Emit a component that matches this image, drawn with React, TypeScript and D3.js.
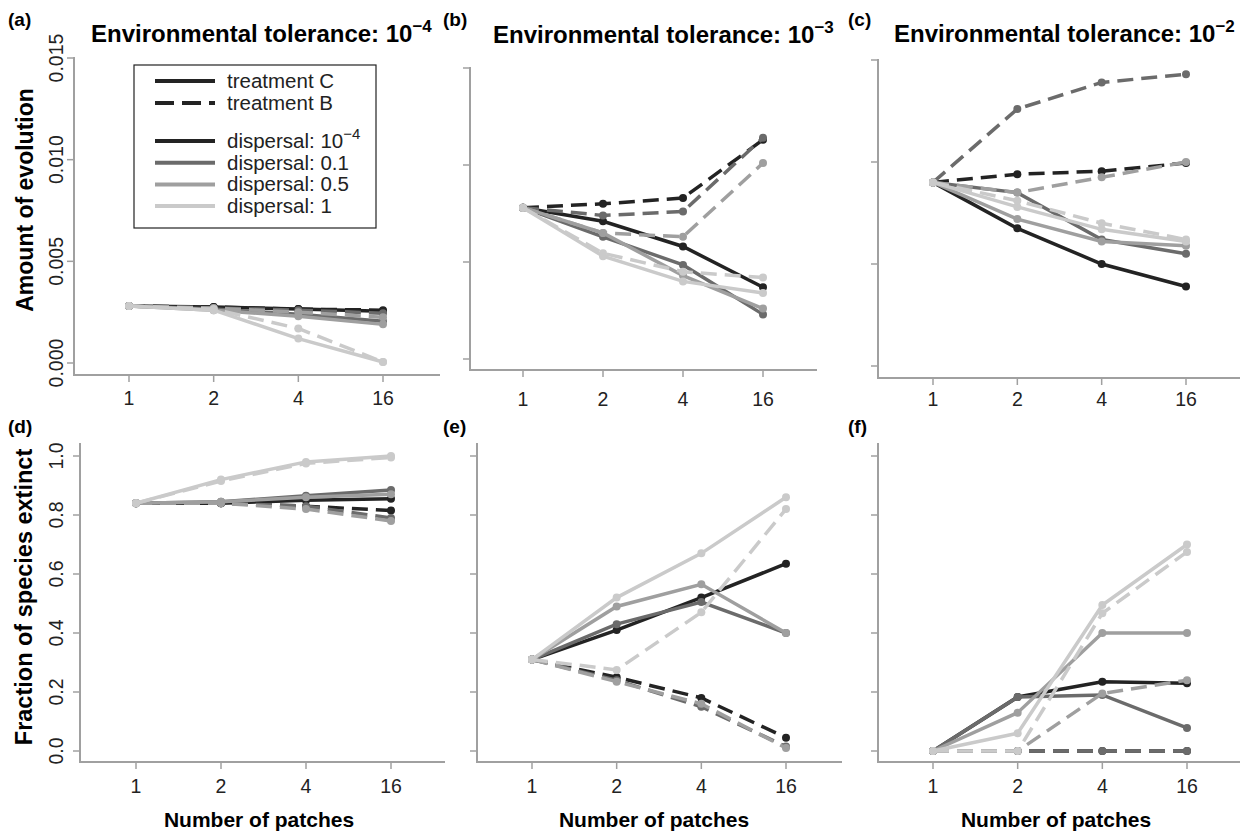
import * as d3 from "d3";

// x categories and axis ticks
const patches = ["1", "2", "4", "16"];
const evoTicks = [0, 0.005, 0.01, 0.015];
const evoTickLabels = ["0.000", "0.005", "0.010", "0.015"];
const extTicks = [0, 0.2, 0.4, 0.6, 0.8, 1.0];
const extTickLabels = ["0.0", "0.2", "0.4", "0.6", "0.8", "1.0"];

// dispersal levels (rows of every data array below)
const dispersal = ["10", "0.1", "0.5", "1"];
const dispersalColors = ["#232323", "#6b6b6b", "#9f9f9f", "#cacaca"];

// amount of evolution, tolerance 1e-4
const evoTol4C = [
  [0.0028, 0.00275, 0.00265, 0.00255],
  [0.0028, 0.00265, 0.0024, 0.00205],
  [0.0028, 0.0026, 0.0023, 0.0019],
  [0.0028, 0.0026, 0.0012, 0.00005],
];
const evoTol4B = [
  [0.0028, 0.00275, 0.00265, 0.0026],
  [0.0028, 0.0027, 0.0026, 0.00245],
  [0.0028, 0.0027, 0.0025, 0.00225],
  [0.0028, 0.00265, 0.0017, 0.00005],
];
// amount of evolution, tolerance 1e-3
const evoTol3C = [
  [0.0078, 0.0071, 0.0058, 0.0037],
  [0.0078, 0.0063, 0.00485, 0.0023],
  [0.0078, 0.0065, 0.0043, 0.0026],
  [0.0078, 0.0053, 0.004, 0.0034],
];
const evoTol3B = [
  [0.0078, 0.008, 0.0083, 0.0113],
  [0.0078, 0.0074, 0.0076, 0.0114],
  [0.0078, 0.0065, 0.0063, 0.0101],
  [0.0078, 0.00545, 0.0045, 0.0042],
];
// amount of evolution, tolerance 1e-2
const evoTol2C = [
  [0.009, 0.00675, 0.005, 0.0039],
  [0.009, 0.0085, 0.0062, 0.0055],
  [0.009, 0.0072, 0.0061, 0.0059],
  [0.009, 0.0078, 0.0067, 0.0061],
];
const evoTol2B = [
  [0.009, 0.0094, 0.00955, 0.00995],
  [0.009, 0.0126, 0.0139, 0.0143],
  [0.009, 0.0085, 0.00925, 0.01],
  [0.009, 0.0081, 0.007, 0.0062],
];
// fraction of species extinct
const extTol4C = [
  [0.84, 0.84, 0.85, 0.855],
  [0.84, 0.845, 0.865, 0.885],
  [0.84, 0.845, 0.86, 0.87],
  [0.84, 0.92, 0.98, 1.0],
];
const extTol4B = [
  [0.84, 0.84, 0.83, 0.815],
  [0.84, 0.84, 0.83, 0.79],
  [0.84, 0.84, 0.82, 0.78],
  [0.84, 0.915, 0.975, 0.995],
];
const extTol3C = [
  [0.31, 0.41, 0.52, 0.635],
  [0.31, 0.43, 0.505, 0.4],
  [0.31, 0.49, 0.565, 0.4],
  [0.31, 0.52, 0.67, 0.86],
];
const extTol3B = [
  [0.31, 0.25, 0.18, 0.045],
  [0.31, 0.24, 0.15, 0.015],
  [0.31, 0.235, 0.16, 0.01],
  [0.31, 0.275, 0.47, 0.82],
];
const extTol2C = [
  [0, 0.183, 0.235, 0.23],
  [0, 0.183, 0.19, 0.078],
  [0, 0.13, 0.4, 0.4],
  [0, 0.06, 0.495, 0.7],
];
const extTol2B = [
  [0, 0, 0, 0],
  [0, 0, 0, 0],
  [0, 0, 0.195, 0.24],
  [0, 0, 0.467, 0.675],
];

const FONT = "'Liberation Sans', Arial, Helvetica, sans-serif";
const AXIS = "#a0a0a0";
const DASH = "16,8";

type PanelDef = {
  label: string;
  labelX: number;
  labelY: number;
  title?: { x: number; y: number; exp: string };
  axisX: number;
  x1: number;
  x16: number;
  y0: number;
  yMax: number;
  axisTop: number;
  axisBottom: number;
  axisRight: number;
  xLabY: number;
  ticks: number[];
  tickLabels?: string[];
  c: number[][];
  b: number[][];
};

const panels: PanelDef[] = [
  { label: "(a)", labelX: 8, labelY: 26, title: { x: 91, y: 42, exp: "−4" }, axisX: 74, x1: 129, x16: 383, y0: 363, yMax: 58, axisTop: 57, axisBottom: 375, axisRight: 440, xLabY: 405, ticks: evoTicks, tickLabels: evoTickLabels, c: evoTol4C, b: evoTol4B },
  { label: "(b)", labelX: 443, labelY: 26, title: { x: 493, y: 43, exp: "−3" }, axisX: 470, x1: 523, x16: 763, y0: 359, yMax: 68, axisTop: 67, axisBottom: 370, axisRight: 817, xLabY: 406, ticks: evoTicks, c: evoTol3C, b: evoTol3B },
  { label: "(c)", labelX: 848, labelY: 26, title: { x: 894, y: 42, exp: "−2" }, axisX: 878, x1: 933, x16: 1186, y0: 366, yMax: 60, axisTop: 59, axisBottom: 378, axisRight: 1240, xLabY: 406, ticks: evoTicks, c: evoTol2C, b: evoTol2B },
  { label: "(d)", labelX: 8, labelY: 433, axisX: 80, x1: 136, x16: 391, y0: 751, yMax: 456, axisTop: 443, axisBottom: 762, axisRight: 445, xLabY: 793, ticks: extTicks, tickLabels: extTickLabels, c: extTol4C, b: extTol4B },
  { label: "(e)", labelX: 443, labelY: 433, axisX: 477, x1: 532, x16: 786, y0: 751, yMax: 456, axisTop: 443, axisBottom: 762, axisRight: 842, xLabY: 793, ticks: extTicks, c: extTol3C, b: extTol3B },
  { label: "(f)", labelX: 848, labelY: 433, axisX: 878, x1: 933, x16: 1187, y0: 751, yMax: 456, axisTop: 443, axisBottom: 762, axisRight: 1240, xLabY: 793, ticks: extTicks, c: extTol2C, b: extTol2B },
];

function Panel({ p }: { p: PanelDef }) {
  const x = d3.scalePoint<string>().domain(patches).range([p.x1, p.x16]);
  const tickMax = p.ticks[p.ticks.length - 1];
  const y = d3.scaleLinear().domain([0, tickMax]).range([p.y0, p.yMax]);
  const line = d3
    .line<number>()
    .x((_, i) => x(patches[i]) as number)
    .y((d) => y(d));

  const series = dispersal.flatMap((_, i) => [
    { vals: p.c[i], color: dispersalColors[i], dash: undefined as string | undefined },
    { vals: p.b[i], color: dispersalColors[i], dash: DASH },
  ]);

  return (
    <g>
      <text x={p.labelX} y={p.labelY} fontSize={19} fontWeight="bold">
        {p.label}
      </text>
      {p.title && (
        <text x={p.title.x} y={p.title.y} fontSize={24} fontWeight="bold">
          Environmental tolerance: 10
          <tspan fontSize={17} dy={-10}>
            {p.title.exp}
          </tspan>
        </text>
      )}
      {/* L-shaped axes */}
      <path
        d={`M${p.axisX},${p.axisTop}V${p.axisBottom}H${p.axisRight}`}
        fill="none"
        stroke={AXIS}
        strokeWidth={2}
      />
      {p.ticks.map((t, i) => (
        <g key={"yt" + i}>
          <line x1={p.axisX - 7} x2={p.axisX} y1={y(t)} y2={y(t)} stroke={AXIS} strokeWidth={1.5} />
          {p.tickLabels && (
            <text
              x={63}
              y={y(t)}
              transform={`rotate(-90, 63, ${y(t)})`}
              textAnchor="middle"
              fontSize={19.5}
              fill="#222"
            >
              {p.tickLabels[i]}
            </text>
          )}
        </g>
      ))}
      {patches.map((c) => (
        <g key={"xt" + c}>
          <line x1={x(c)} x2={x(c)} y1={p.axisBottom} y2={p.axisBottom + 7} stroke={AXIS} strokeWidth={1.5} />
          <text x={x(c)} y={p.xLabY} textAnchor="middle" fontSize={19.5} fill="#222">
            {c}
          </text>
        </g>
      ))}
      {series.map((s, i) => (
        <g key={"s" + i}>
          <path
            d={line(s.vals) || ""}
            fill="none"
            stroke={s.color}
            strokeWidth={3.5}
            strokeDasharray={s.dash}
          />
          {s.vals.map((v, j) => (
            <circle key={j} cx={x(patches[j])} cy={y(v)} r={4} fill={s.color} />
          ))}
        </g>
      ))}
    </g>
  );
}

function Legend() {
  const rows = [
    { label: "treatment C", color: "#232323", dash: undefined as string | undefined, y: 81 },
    { label: "treatment B", color: "#232323", dash: "19,8", y: 103 },
    ...dispersal.map((d, i) => ({
      label: "dispersal: " + d,
      color: dispersalColors[i],
      dash: undefined as string | undefined,
      y: 141 + i * 21.7,
    })),
  ];
  return (
    <g>
      <rect x={134} y={65} width={242} height={163} fill="white" stroke="#222" strokeWidth={1.2} />
      {rows.map((r, i) => (
        <g key={i}>
          <line x1={155} x2={215} y1={r.y} y2={r.y} stroke={r.color} strokeWidth={4} strokeDasharray={r.dash} />
          <text x={227} y={r.y + 7} fontSize={20.5} fill="#222">
            {r.label}
            {i === 2 && (
              <tspan fontSize={15} dy={-9}>
                −4
              </tspan>
            )}
          </text>
        </g>
      ))}
    </g>
  );
}

export default function App() {
  return (
    <svg
      width={1244}
      height={832}
      style={{ position: "absolute", left: 0, top: 0, background: "white" }}
      fontFamily={FONT}
    >
      <rect width={1244} height={832} fill="white" />
      {panels.map((p) => (
        <Panel key={p.label} p={p} />
      ))}
      <Legend />
      <text transform="translate(33,200) rotate(-90)" textAnchor="middle" fontSize={23} fontWeight="bold">
        Amount of evolution
      </text>
      <text transform="translate(32,597) rotate(-90)" textAnchor="middle" fontSize={23.5} fontWeight="bold">
        Fraction of species extinct
      </text>
      {[259, 654, 1056].map((cx) => (
        <text key={cx} x={cx} y={827} textAnchor="middle" fontSize={21} fontWeight="bold">
          Number of patches
        </text>
      ))}
    </svg>
  );
}
